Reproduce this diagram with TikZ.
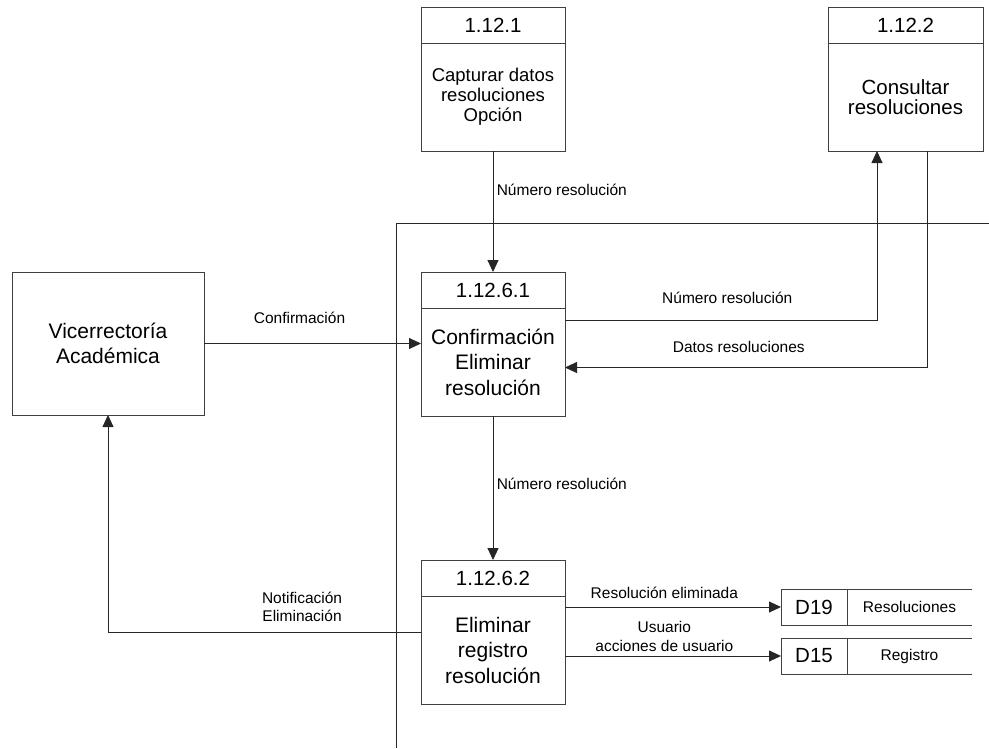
\documentclass[tikz,border=0pt]{standalone}
\usepackage{fontspec}
\setmainfont{Liberation Sans}
\usetikzlibrary{positioning,arrows.meta}

\tikzset{
  hdr/.style={draw=black!75, minimum width=144pt, minimum height=36pt, inner sep=0pt, outer sep=0pt,
    font=\fontsize{20.5}{25}\selectfont},
  proc/.style={draw=black!75, minimum width=144pt, minimum height=108pt, inner sep=0pt, outer sep=0pt,
    align=center, font=\fontsize{21}{25.5}\selectfont},
  ext/.style={draw=black!75, minimum width=192pt, minimum height=143pt, outer sep=0pt,
    align=center, font=\fontsize{21}{25}\selectfont},
  dsid/.style={draw=black!75, minimum width=66pt, minimum height=36pt, inner sep=0pt, outer sep=0pt,
    font=\fontsize{20.5}{25}\selectfont},
  dsname/.style={minimum width=125pt, minimum height=36pt, inner sep=0pt, outer sep=0pt,
    font=\fontsize{15.5}{18.5}\selectfont},
  flow/.style={font=\fontsize{15.5}{18.5}\selectfont, align=center}
}

\begin{document}
\begin{tikzpicture}[x=1pt, y=-1pt, line width=0.9pt, draw=black!85,
    >={Triangle[length=12pt,width=11pt]}]
    \useasboundingbox (0,0) rectangle (989,748);

    % processes
    \node[hdr] (P1h) at (493,25) {1.12.1};
    \node[proc, below=0pt of P1h, font=\fontsize{18.5}{20}\selectfont] (P1) {Capturar datos\\resoluciones\\Opción};
    \node[hdr, minimum width=155pt] (P2h) at (905.5,25) {1.12.2};
    \node[proc, minimum width=155pt, below=0pt of P2h, font=\fontsize{20.5}{20}\selectfont] (P2) {Consultar\\resoluciones};
    \node[hdr] (P61h) at (493,290) {1.12.6.1};
    \node[proc, below=0pt of P61h] (P61) {Confirmación\\Eliminar\\resolución};
    \node[hdr] (P62h) at (493,578) {1.12.6.2};
    \node[proc, below=0pt of P62h] (P62) {Eliminar\\registro\\resolución};

    % external entity
    \node[ext] (VA) at (108,343.5) {Vicerrectoría\\Académica};

    % data stores
    \node[dsid] (D19) at (814,607) {D19};
    \node[dsname, right=0pt of D19] (D19n) {Resoluciones};
    \node[dsid] (D15) at (814,656) {D15};
    \node[dsname, right=0pt of D15] (D15n) {Registro};
    \draw[black!75] (D19.north east) -- (D19n.north east) (D19.south east) -- (D19n.south east);
    \draw[black!75] (D15.north east) -- (D15n.north east) (D15.south east) -- (D15n.south east);

    % boundary
    \draw (396.5,748) -- (396.5,223.5) -- (989,223.5);

    % flows
    \draw[->] (P1) -- node[flow, right, pos=.32] {Número resolución} (P61h);
    \draw[->] (VA) -- node[flow, above=16pt, pos=.44] {Confirmación} (VA -| P61.west);
    \draw[->] ([yshift=42pt]P61.east) -| node[flow, above=13pt, pos=.26] {Número resolución} ([xshift=-28.5pt]P2.south);
    \draw[->] ([xshift=21.5pt]P2.south) |- node[flow, above=11pt, pos=.76] {Datos resoluciones} ([yshift=-5.5pt]P61.east);
    \draw[->] (P61) -- node[flow, right, pos=.47] {Número resolución} (P62h);
    \draw[->] ([yshift=18pt]P62.west) -| node[flow, above=6.5pt, pos=.19] {Notificación\\Eliminación} (VA);
    \draw[->] (P62.east |- D19) -- node[flow, above=5pt, pos=.46] {Resolución eliminada} (D19);
    \draw[->] (P62.east |- D15) -- node[flow, above=1pt, pos=.46] {Usuario\\acciones de usuario} (D15);
\end{tikzpicture}
\end{document}
